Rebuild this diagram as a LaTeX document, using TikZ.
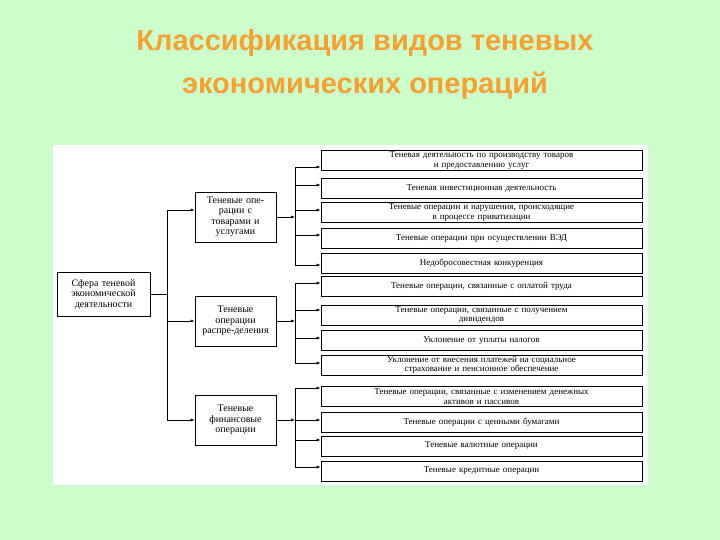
\documentclass[tikz,border=0pt]{standalone}
\usepackage{fontspec}
\setmainfont{Liberation Serif}
\newfontfamily\titlefont{Liberation Sans}
\usetikzlibrary{arrows.meta}
\definecolor{bg}{HTML}{CCFFCC}
\definecolor{ttl}{HTML}{F5A030}
\begin{document}
\begin{tikzpicture}[x=1pt,y=-1pt,
  box/.style={draw,thick,fill=white,inner sep=1pt,align=center,font=\fontsize{9}{9.5}\selectfont},
  rbox/.style={box,minimum width=321pt,text width=310pt},
  mbox/.style={box,minimum width=81pt,minimum height=50pt,text width=70pt,font=\fontsize{10}{10.5}\selectfont},
  con/.style={-{Latex[length=4pt,width=3pt]},line width=0.6pt}]
\fill[bg] (0,0) rectangle (720,540);
\useasboundingbox (0,0) rectangle (720,540);
\fill[white] (53,145) rectangle (648,485);
\node[font=\titlefont\bfseries\fontsize{29}{43}\selectfont,text=ttl,align=center] (title) at (365,65) {Классификация видов теневых\\экономических операций};
\node[box,minimum width=93pt,minimum height=44pt,text width=90pt,font=\fontsize{10}{10.5}\selectfont] (root) at (103.5,294) {Сфера теневой экономической деятельности};
\node[mbox] (m1) at (235.5,217) {Теневые опе-\\рации с\\товарами и\\услугами};
\node[mbox] (m2) at (235.5,321) {Теневые операции распре-деления};
\node[mbox] (m3) at (235.5,420) {Теневые финансовые операции};
\coordinate (t) at (167,294);
\draw[line width=0.6pt] (root.east) -- (t);
\draw[line width=0.6pt] (167,210) -- (167,420);
\draw[con] (167,210) -- (m1.west|-0,210);
\draw[con] (167,321) -- (m2.west);
\draw[con] (167,420) -- (m3.west);
\foreach \n/\y/\t in {
 r1/160.5/{Теневая деятельность по производству товаров\\и предоставлению услуг},
 r2/188/{Теневая инвестиционная деятельность},
 r3/212.5/{Теневые операции и нарушения, происходящие\\в процессе приватизации},
 r4/238/{Теневые операции при осуществлении ВЭД},
 r5/263/{Недобросовестная конкуренция},
 r6/286/{Теневые операции, связанные с оплатой труда},
 r7/315/{Теневые операции, связанные с получением\\дивидендов},
 r8/340.5/{Уклонение от уплаты налогов},
 r9/365/{Уклонение от внесения платежей на социальное\\страхование и пенсионное обеспечение},
 r10/396.5/{Теневые операции, связанные с изменением денежных\\активов и пассивов},
 r11/422/{Теневые операции с ценными бумагами},
 r12/446/{Теневые валютные операции},
 r13/471/{Теневые кредитные операции}}
 \node[rbox,minimum height={(\y<160?25:20)}] (\n) at (481.5,\y) {\t};
\foreach \m/\a/\b/\list in {m1/167/265/{r1/167,r2/185,r3/210,r4/235,r5/265},
  m2/283/363/{r6/283,r7/310,r8/338,r9/363},
  m3/388/467/{r10/388,r11/420,r12/440,r13/467}}{
  \draw[con] (\m.east) -- (295,0|-\m.east);
  \draw[line width=0.6pt] (295,\a) -- (295,\b);
  \foreach \r/\yy in \list {\draw[con] (295,\yy) -- (\r.west|-0,\yy);}
}
\end{tikzpicture}
\end{document}
